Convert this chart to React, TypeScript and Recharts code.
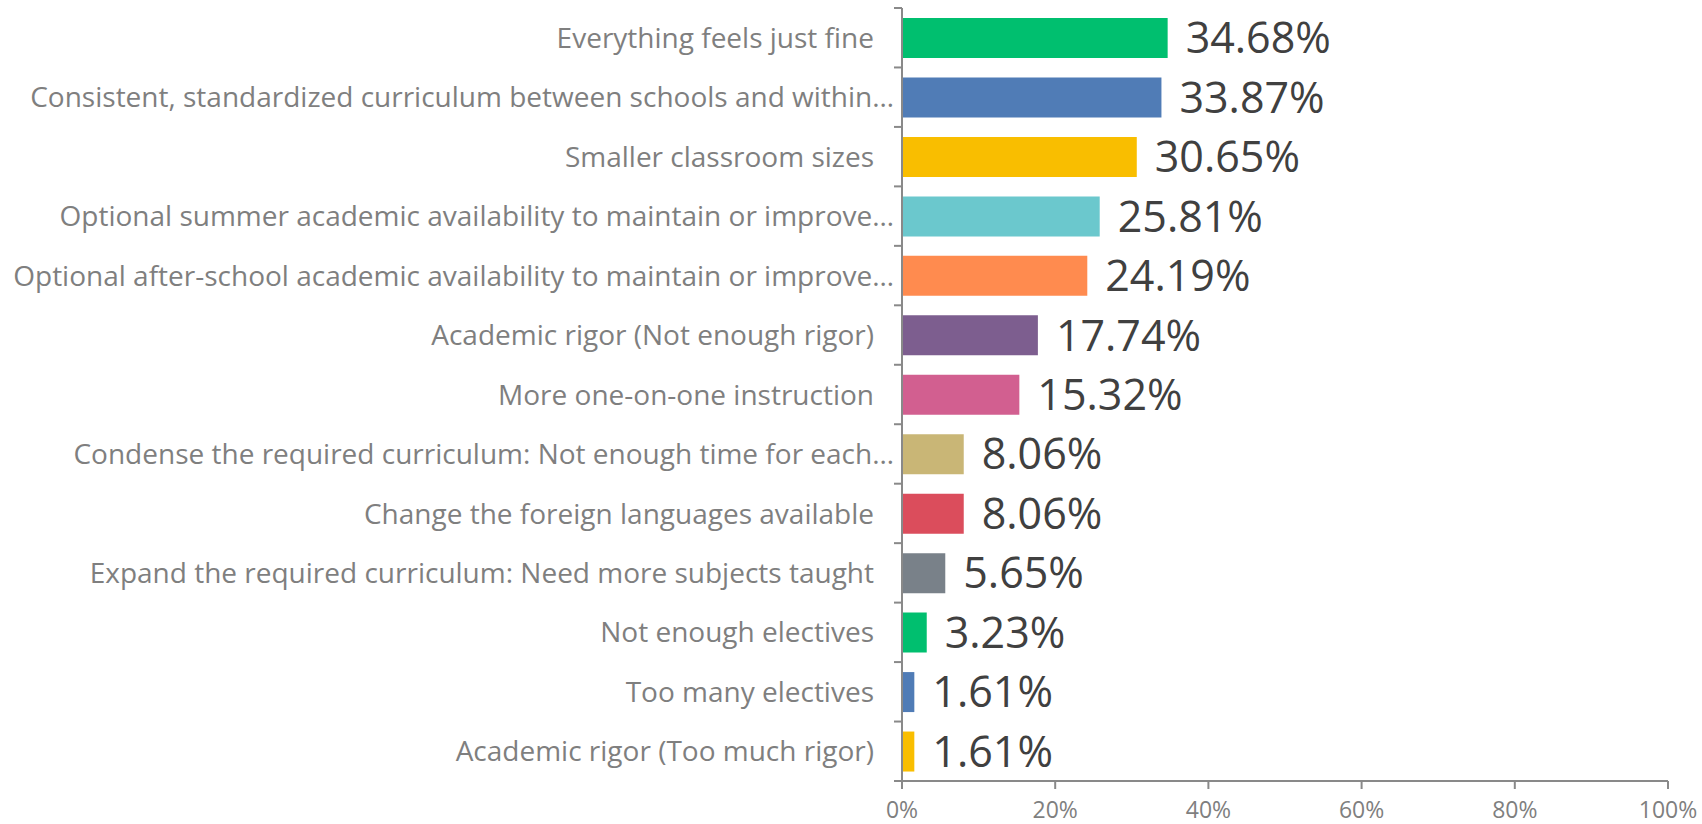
import { Bar, BarChart, Cell, LabelList, XAxis, YAxis } from "recharts";

const categories = [
  "Everything feels just fine",
  "Consistent, standardized curriculum between schools and within…",
  "Smaller classroom sizes",
  "Optional summer academic availability to maintain or improve…",
  "Optional after-school academic availability to maintain or improve…",
  "Academic rigor (Not enough rigor)",
  "More one-on-one instruction",
  "Condense the required curriculum: Not enough time for each…",
  "Change the foreign languages available",
  "Expand the required curriculum: Need more subjects taught",
  "Not enough electives",
  "Too many electives",
  "Academic rigor (Too much rigor)",
];

const shares = [34.68, 33.87, 30.65, 25.81, 24.19, 17.74, 15.32, 8.06, 8.06, 5.65, 3.23, 1.61, 1.61];

const barColors = [
  "#00BF6F", "#507CB6", "#F9BE00", "#6BC8CD", "#FF8B4F", "#7D5E8F", "#D25F90",
  "#C9B676", "#DB4D5C", "#798189", "#00BF6F", "#507CB6", "#F9BE00",
];

const xTicks = [0, 20, 40, 60, 80, 100];

const data = categories.map((name, i) => ({ name, value: shares[i] }));

const axisGray = "#898989";
const font = "'Open Sans', sans-serif";

// y tick: label right aligned, small tick mark at the top edge of each band
const CategoryTick = (props: any) => {
  const { x, y, payload, index } = props;
  const half = payload.offset || 0;
  const text = String(payload.value);
  const cut = text.endsWith("…");
  const tx = cut ? x - 8 : x - 28;
  return (
    <g>
      <line x1={x - 8} x2={x} y1={y - half} y2={y - half} stroke={axisGray} strokeWidth={2} />
      {index === categories.length - 1 && (
        <line x1={x - 8} x2={x} y1={y + half} y2={y + half} stroke={axisGray} strokeWidth={2} />
      )}
      <text x={tx} y={y} dy="0.36em" textAnchor="end" fill="#7f7f7f" fontSize={28} fontFamily={font}>
        {text}
      </text>
    </g>
  );
};

export default function App() {
  return (
    <div style={{ position: "absolute", left: 0, top: 0, background: "#fff" }}>
      <BarChart
        width={1702}
        height={824}
        data={data}
        layout="vertical"
        margin={{ top: 8, right: 34, bottom: 0, left: 0 }}
        barSize={40}
      >
        <XAxis
          type="number"
          domain={[0, 100]}
          ticks={xTicks}
          tickFormatter={(v) => `${v}%`}
          axisLine={{ stroke: axisGray, strokeWidth: 2 }}
          tickLine={{ stroke: axisGray, strokeWidth: 2 }}
          tickSize={8}
          tickMargin={13}
          height={43}
          tick={{ fill: "#7f7f7f", fontSize: 23, fontFamily: font }}
        />
        <YAxis
          type="category"
          dataKey="name"
          width={902}
          axisLine={{ stroke: axisGray, strokeWidth: 2 }}
          tickLine={false}
          tickSize={0}
          tickMargin={0}
          interval={0}
          tick={<CategoryTick />}
        />
        <Bar dataKey="value" isAnimationActive={false}>
          {data.map((d, i) => (
            <Cell key={d.name + i} fill={barColors[i]} />
          ))}
          <LabelList
            dataKey="value"
            position="right"
            offset={18}
            formatter={(v: any) => `${Number(v).toFixed(2)}%`}
            fill="#404040"
            fontSize={43}
            fontFamily={font}
          />
        </Bar>
      </BarChart>
    </div>
  );
}
